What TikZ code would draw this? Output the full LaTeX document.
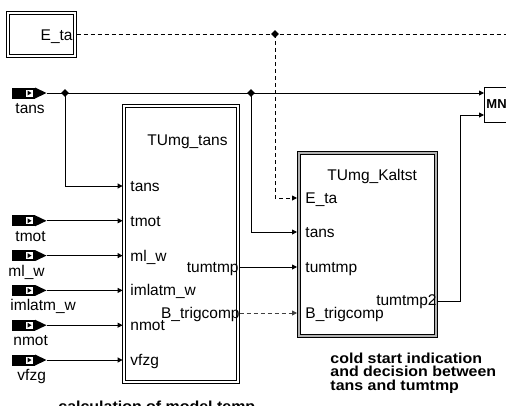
\documentclass[tikz,border=0pt]{standalone}
\usepackage{fontspec}
\setmainfont{Liberation Sans}
\newfontfamily\captfont{Liberation Sans}[FakeStretch=1.1]
\usetikzlibrary{arrows.meta, shapes.geometric}

\tikzset{
  inport/.pic={
    \fill[black] (-34.5,-5.5) rectangle (-11.5,5.5);
    \fill[black] (-11.5,-5.5) -- (0,0) -- (-11.5,5.5) -- cycle;
    \fill[white] (-20.5,-3.5) rectangle (-13.5,3.5);
    \fill[black] (-19,-2.5) -- (-15,0) -- (-19,2.5) -- cycle;
  }
}

\begin{document}
\begin{tikzpicture}[x=1pt, y=-1pt, line width=0.9pt,
  font=\fontsize{15.5}{18}\selectfont,
  >={Triangle[length=5pt, width=5pt]},
  blk/.style={line width=0.8pt},
  junc/.style={diamond, fill=black, inner sep=0, minimum size=8pt},
  dsig/.style={dash pattern=on 4pt off 3pt},
  lbl/.style={anchor=base west, inner sep=0},
  rlbl/.style={anchor=base east, inner sep=0},
  capt/.style={font=\captfont\fontsize{14.5}{13.5}\selectfont\bfseries, align=left, inner sep=0}]

\useasboundingbox (0,0) rectangle (506,405);

% px coordinates of the 506x405 sheet, y runs downwards

%% ── blocks (outer and inner frame) ───────────────────────────────
\draw[blk] (6.5,11.5) coordinate (eta-nw) rectangle (76.5,57.3) coordinate (eta-se);
\draw[blk] (9.5,14.5) rectangle (73.5,54.3);
\node[rlbl] (etatxt) at (73,40) {E\_ta};

\draw[blk] (122.8,104) coordinate (tans-nw) rectangle (239.4,383) coordinate (tans-se);
\draw[blk] (125.8,107) rectangle (236.4,380);
\node[rlbl] (tanstitle) at (228,145) {TUmg\_tans};

\draw[black!30, line width=2.2pt] (298.5,152.5) rectangle (435.5,335.5);
\draw[blk] (297,151) coordinate (kalt-nw) rectangle (437,337) coordinate (kalt-se);
\draw[blk] (300,154) rectangle (434,334);
\node[lbl] (kalttitle) at (327,180) {TUmg\_Kaltst};

\draw (484.5,87) coordinate (mn-nw) rectangle (530,122) coordinate (mn-se);
\node[anchor=west, inner sep=0, font=\fontsize{13}{15}\selectfont\bfseries] (mntxt) at (486,104.5) {MN};

%% ── ports ────────────────────────────────────────────────────────
\foreach \nm/\yy/\txt in {tans/186/tans, tmot/220.8/tmot, mlw/255.6/ml\_w,
    imlatmw/290.4/imlatm\_w, nmot/325.2/nmot, vfzg/360/vfzg} {
  \coordinate (a-\nm) at (122.6,\yy);
  \node[lbl] (pa-\nm) at (130,\yy+5.5) {\txt};
}
\foreach \nm/\yy/\txt in {eta/198/E\_ta, tans/232/tans, tumtmp/267/tumtmp, trig/313/B\_trigcomp} {
  \coordinate (k-\nm) at (297,\yy);
  \node[lbl] (pk-\nm) at (305,\yy+5.5) {\txt};
}
\coordinate (o-tumtmp) at (239.5,267);
\coordinate (o-trig) at (239.5,313);
\node[rlbl] (po-tumtmp) at (239,272) {tumtmp};
\node[rlbl] (po-trig) at (240,318.5) {B\_trigcomp};
\coordinate (o-tumtmp2) at (437,301.7);
\node[rlbl] (po-tumtmp2) at (437,305) {tumtmp2};
\coordinate (mn-in1) at (484,93);
\coordinate (mn-in2) at (484,115);

%% ── inports ──────────────────────────────────────────────────────
\coordinate (in-tans) at (46.5,93);
\pic at (in-tans) {inport};
\node[lbl] (l-tans) at (15,113) {tans};
\foreach \nm/\yy/\xx/\txt in {tmot/220.8/15/tmot, mlw/255.6/8/ml\_w,
    imlatmw/290.4/10/imlatm\_w, nmot/325.2/13/nmot, vfzg/360/17/vfzg} {
  \coordinate (in-\nm) at (46.5,\yy);
  \pic at (in-\nm) {inport};
  \node[lbl] (l-\nm) at (\xx,\yy+20.5) {\txt};
  \draw[->] (in-\nm) -- (a-\nm);
}

%% ── tans signal ──────────────────────────────────────────────────
\node[junc] (j1) at (65,93) {};
\node[junc] (j2) at (251,93) {};
\draw[->] (in-tans) -- (mn-in1);
\draw[->] (j1.center) |- (a-tans);
\draw[->] (j2.center) |- (k-tans);

%% ── E_ta signal ──────────────────────────────────────────────────
\coordinate (eta-out) at (76.5,34);
\coordinate (eta-end) at (507,34);
\node[junc] (j3) at (275,34) {};
\draw[dsig] (eta-out) -- (eta-end);
\draw[dsig, ->] (j3.center) |- (k-eta);

%% ── block outputs ────────────────────────────────────────────────
\draw[->] (o-tumtmp) -- (k-tumtmp);
\draw[dsig, black!75, ->] (o-trig) -- (k-trig);
\draw[->] (o-tumtmp2) -- ++(23.7,0) |- (mn-in2);

%% ── captions ─────────────────────────────────────────────────────
\node[capt, anchor=north west] (capkalt) at (330,352.5) {cold start indication\\and decision between\\tans and tumtmp};
\node[capt, anchor=base west] (captans) at (58,411) {calculation of model temp};

\end{tikzpicture}
\end{document}
